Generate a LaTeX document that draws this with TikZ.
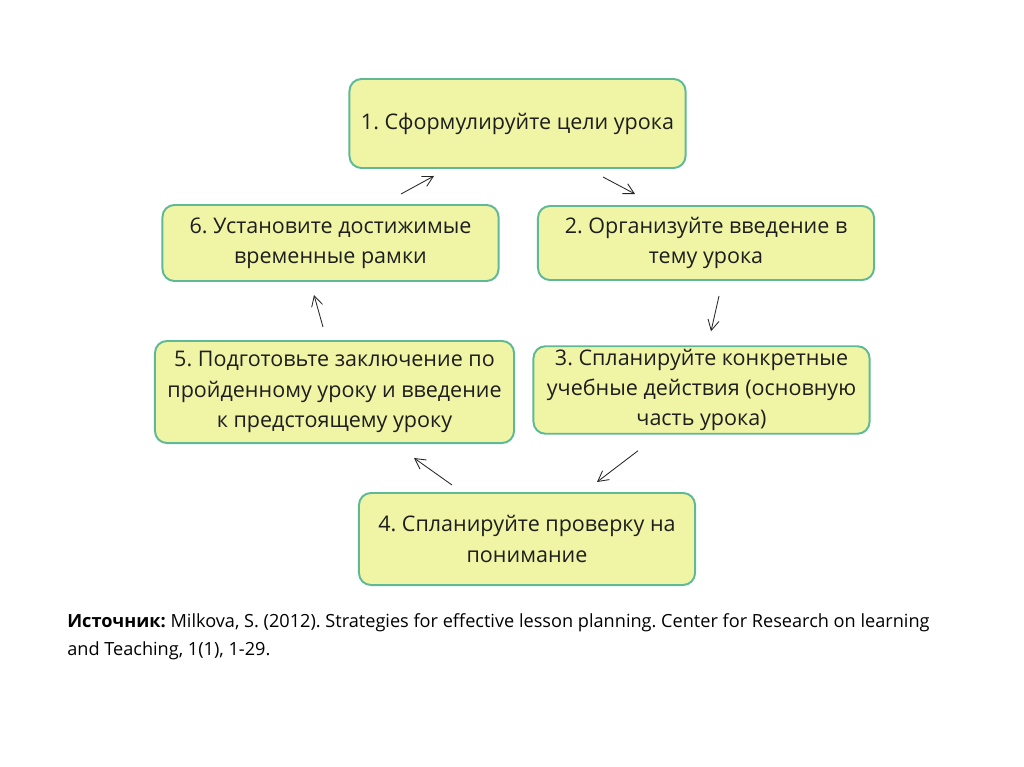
\documentclass[tikz,border=0pt]{standalone}
\usepackage{fontspec}
\setmainfont{Open Sans}
\usepackage{xcolor}
\usepackage{tikz}
\usetikzlibrary{arrows.meta}
\definecolor{boxfill}{RGB}{240,245,165}
\definecolor{boxedge}{RGB}{95,185,150}
\definecolor{txt}{RGB}{30,30,30}
\frenchspacing

\begin{document}
\begin{tikzpicture}[
  x=0.025cm,y=-0.025cm,
  font=\fontsize{15.3}{21.5}\selectfont,
  stepbox/.style={draw=boxedge,line width=1.4pt,rounded corners=0.3cm,fill=boxfill,text=txt,inner sep=2pt,minimum width=8.4cm,align=center},
  arr/.style={-{Straight Barb[length=2.6mm,width=2.8mm]},line width=0.6pt,black!85}
]
\useasboundingbox (0,0) rectangle (1024,767);
\fill[white] (0,0) rectangle (1024,767);
\node[stepbox,minimum height=2.225cm] (goals) at (517.5,123.5) {1. Сформулируйте цели урока};
\node[stepbox,minimum height=1.85cm] (intro) at (706,243) {2. Организуйте введение в\\тему урока};
\node[stepbox,minimum height=2.15cm] (actions) at (701.5,390) {3. Спланируйте конкретные\\учебные действия (основную\\часть урока)};
\node[stepbox,minimum height=2.3cm] (check) at (527,539) {4. Спланируйте проверку на\\понимание};
\node[stepbox,minimum width=8.975cm,minimum height=2.55cm] (closing) at (334.5,392) {5. Подготовьте заключение по\\пройденному уроку и введение\\к предстоящему уроку};
\node[stepbox,minimum height=1.9cm] (timing) at (330.5,243) {6. Установите достижимые\\временные рамки};

\node[anchor=north west,align=left,inner sep=0pt,font=\fontsize{12.9}{20}\selectfont] (source) at (67,613)
  {\textbf{Источник:} Milkova, S. (2012). Strategies for effective lesson planning. Center for Research on learning\\and Teaching, 1(1), 1-29.};

\draw[arr] ([shift={(85.5,8)}]goals.south) -- ([shift={(-71,-11)}]intro.north);
\draw[arr] ([shift={(13,15)}]intro.south) -- ([shift={(9.5,-14)}]actions.north);
\draw[arr] ([shift={(-63.5,16)}]actions.south) -- ([shift={(70,-10)}]check.north);
\draw[arr] ([shift={(-75,-7)}]check.north) -- ([shift={(79.5,14)}]closing.south);
\draw[arr] ([shift={(-11.5,-13)}]closing.north) -- ([shift={(-16.5,13)}]timing.south);
\draw[arr] ([shift={(70.5,-10)}]timing.north) -- ([shift={(-83.5,7)}]goals.south);
\end{tikzpicture}
\end{document}
